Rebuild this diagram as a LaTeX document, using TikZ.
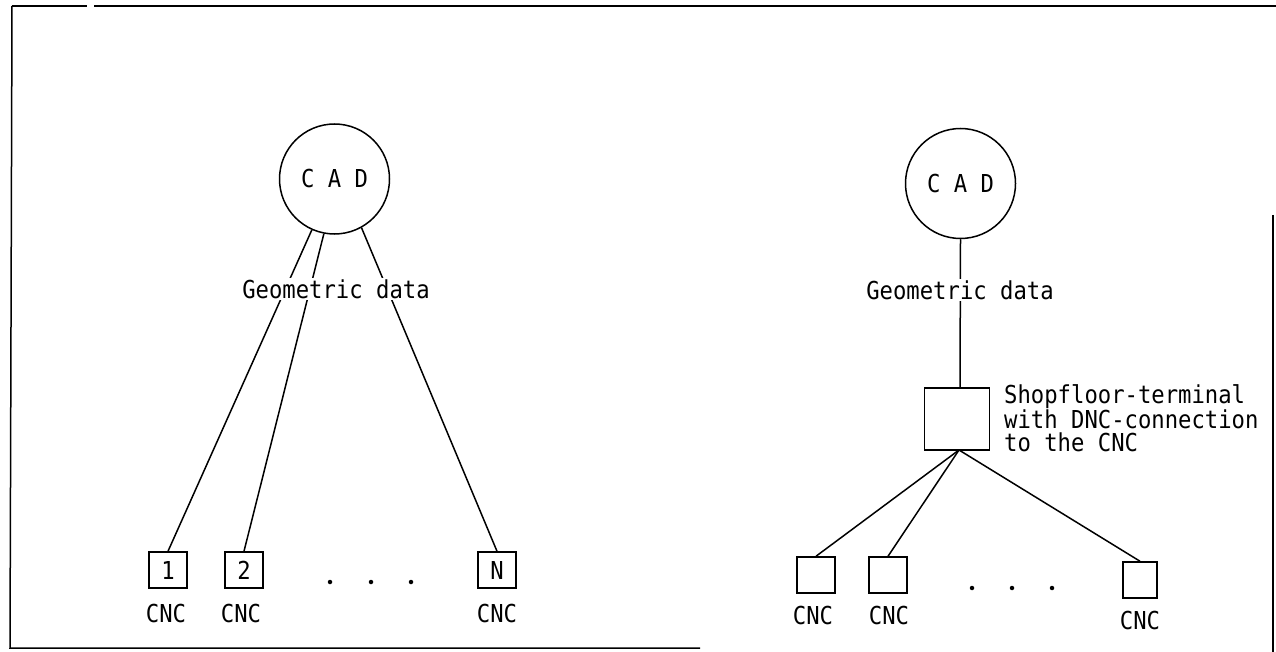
\documentclass[tikz,border=0pt]{standalone}
\usepackage{fontspec}
\newfontfamily\monofont[FakeStretch=0.9]{DejaVu Sans Mono}
\begin{document}
\begin{tikzpicture}[x=1pt,y=-1pt,
  every node/.style={font=\monofont\fontsize{24.7}{26}\selectfont, text=black},
  ln/.style={line width=1.5pt, black},
  cadnode/.style={circle, draw, line width=1.5pt, minimum size=110pt, inner sep=0pt},
  cncbox/.style={rectangle, draw, line width=1.5pt, minimum width=38pt, minimum height=36pt, inner sep=0pt},
  lbl/.style={fill=white, inner sep=1pt},
  dot/.style={circle, fill=black, inner sep=0pt, minimum size=4.5pt}]
\useasboundingbox (0,0) rectangle (1276,652);
% frame
\draw[ln] (12,6) -- (87,6);
\draw[ln] (94,6) -- (1276,6);
\draw[ln] (12,6) -- (10,648) -- (700,648);
\draw[ln] (1273,215) -- (1273,652);
% ---------- left diagram ----------
\node[cadnode] (cadL) at (334.5,179) {C A D};
\node[cncbox] (c1) at (168,570) {1};
\node[cncbox] (c2) at (244,570) {2};
\node[cncbox] (cN) at (497,570) {N};
\draw[ln] (cadL.246) -- (c1.north);
\draw[ln] (cadL.259) -- (c2.north);
\draw[ln] (cadL.299) -- (cN.north);
\node[lbl] (geoL) at (336,289) {Geometric data};
\node (cncl1) at (166,614) {CNC};
\node (cncl2) at (241,614) {CNC};
\node (cnclN) at (497,614) {CNC};
\node[dot] (dl1) at (330,582) {};
\node[dot] (dl2) at (371,582) {};
\node[dot] (dl3) at (411,582) {};
% ---------- right diagram ----------
\node[cadnode] (cadR) at (960.5,183.5) {C A D};
\node[rectangle, draw, line width=1.5pt, minimum width=65pt, minimum height=62pt] (term) at (957,419) {};
\coordinate (tt) at (960,388);
\coordinate (tb) at (959,450);
\node[cncbox] (r1) at (816,575) {};
\node[cncbox] (r2) at (888,575) {};
\node[cncbox, minimum width=34pt] (r3) at (1140,580) {};
\draw[ln] (cadR.south) -- (tt);
\draw[ln] (tb) -- (r1.north);
\draw[ln] (tb) -- (r2.north);
\draw[ln] (tb) -- (r3.north);
\node[lbl] (geoR) at (960,290) {Geometric data};
\node[anchor=north west, align=left, inner sep=0pt, font=\monofont\fontsize{24.7}{23}\selectfont] (shop) at (1004,384) {Shopfloor-terminal\\with DNC-connection\\to the CNC};
\node (cncr1) at (813,616) {CNC};
\node (cncr2) at (889,616) {CNC};
\node (cncr3) at (1140,621) {CNC};
\node[dot] (dr1) at (972,588) {};
\node[dot] (dr2) at (1012,588) {};
\node[dot] (dr3) at (1052,588) {};
\end{tikzpicture}
\end{document}
